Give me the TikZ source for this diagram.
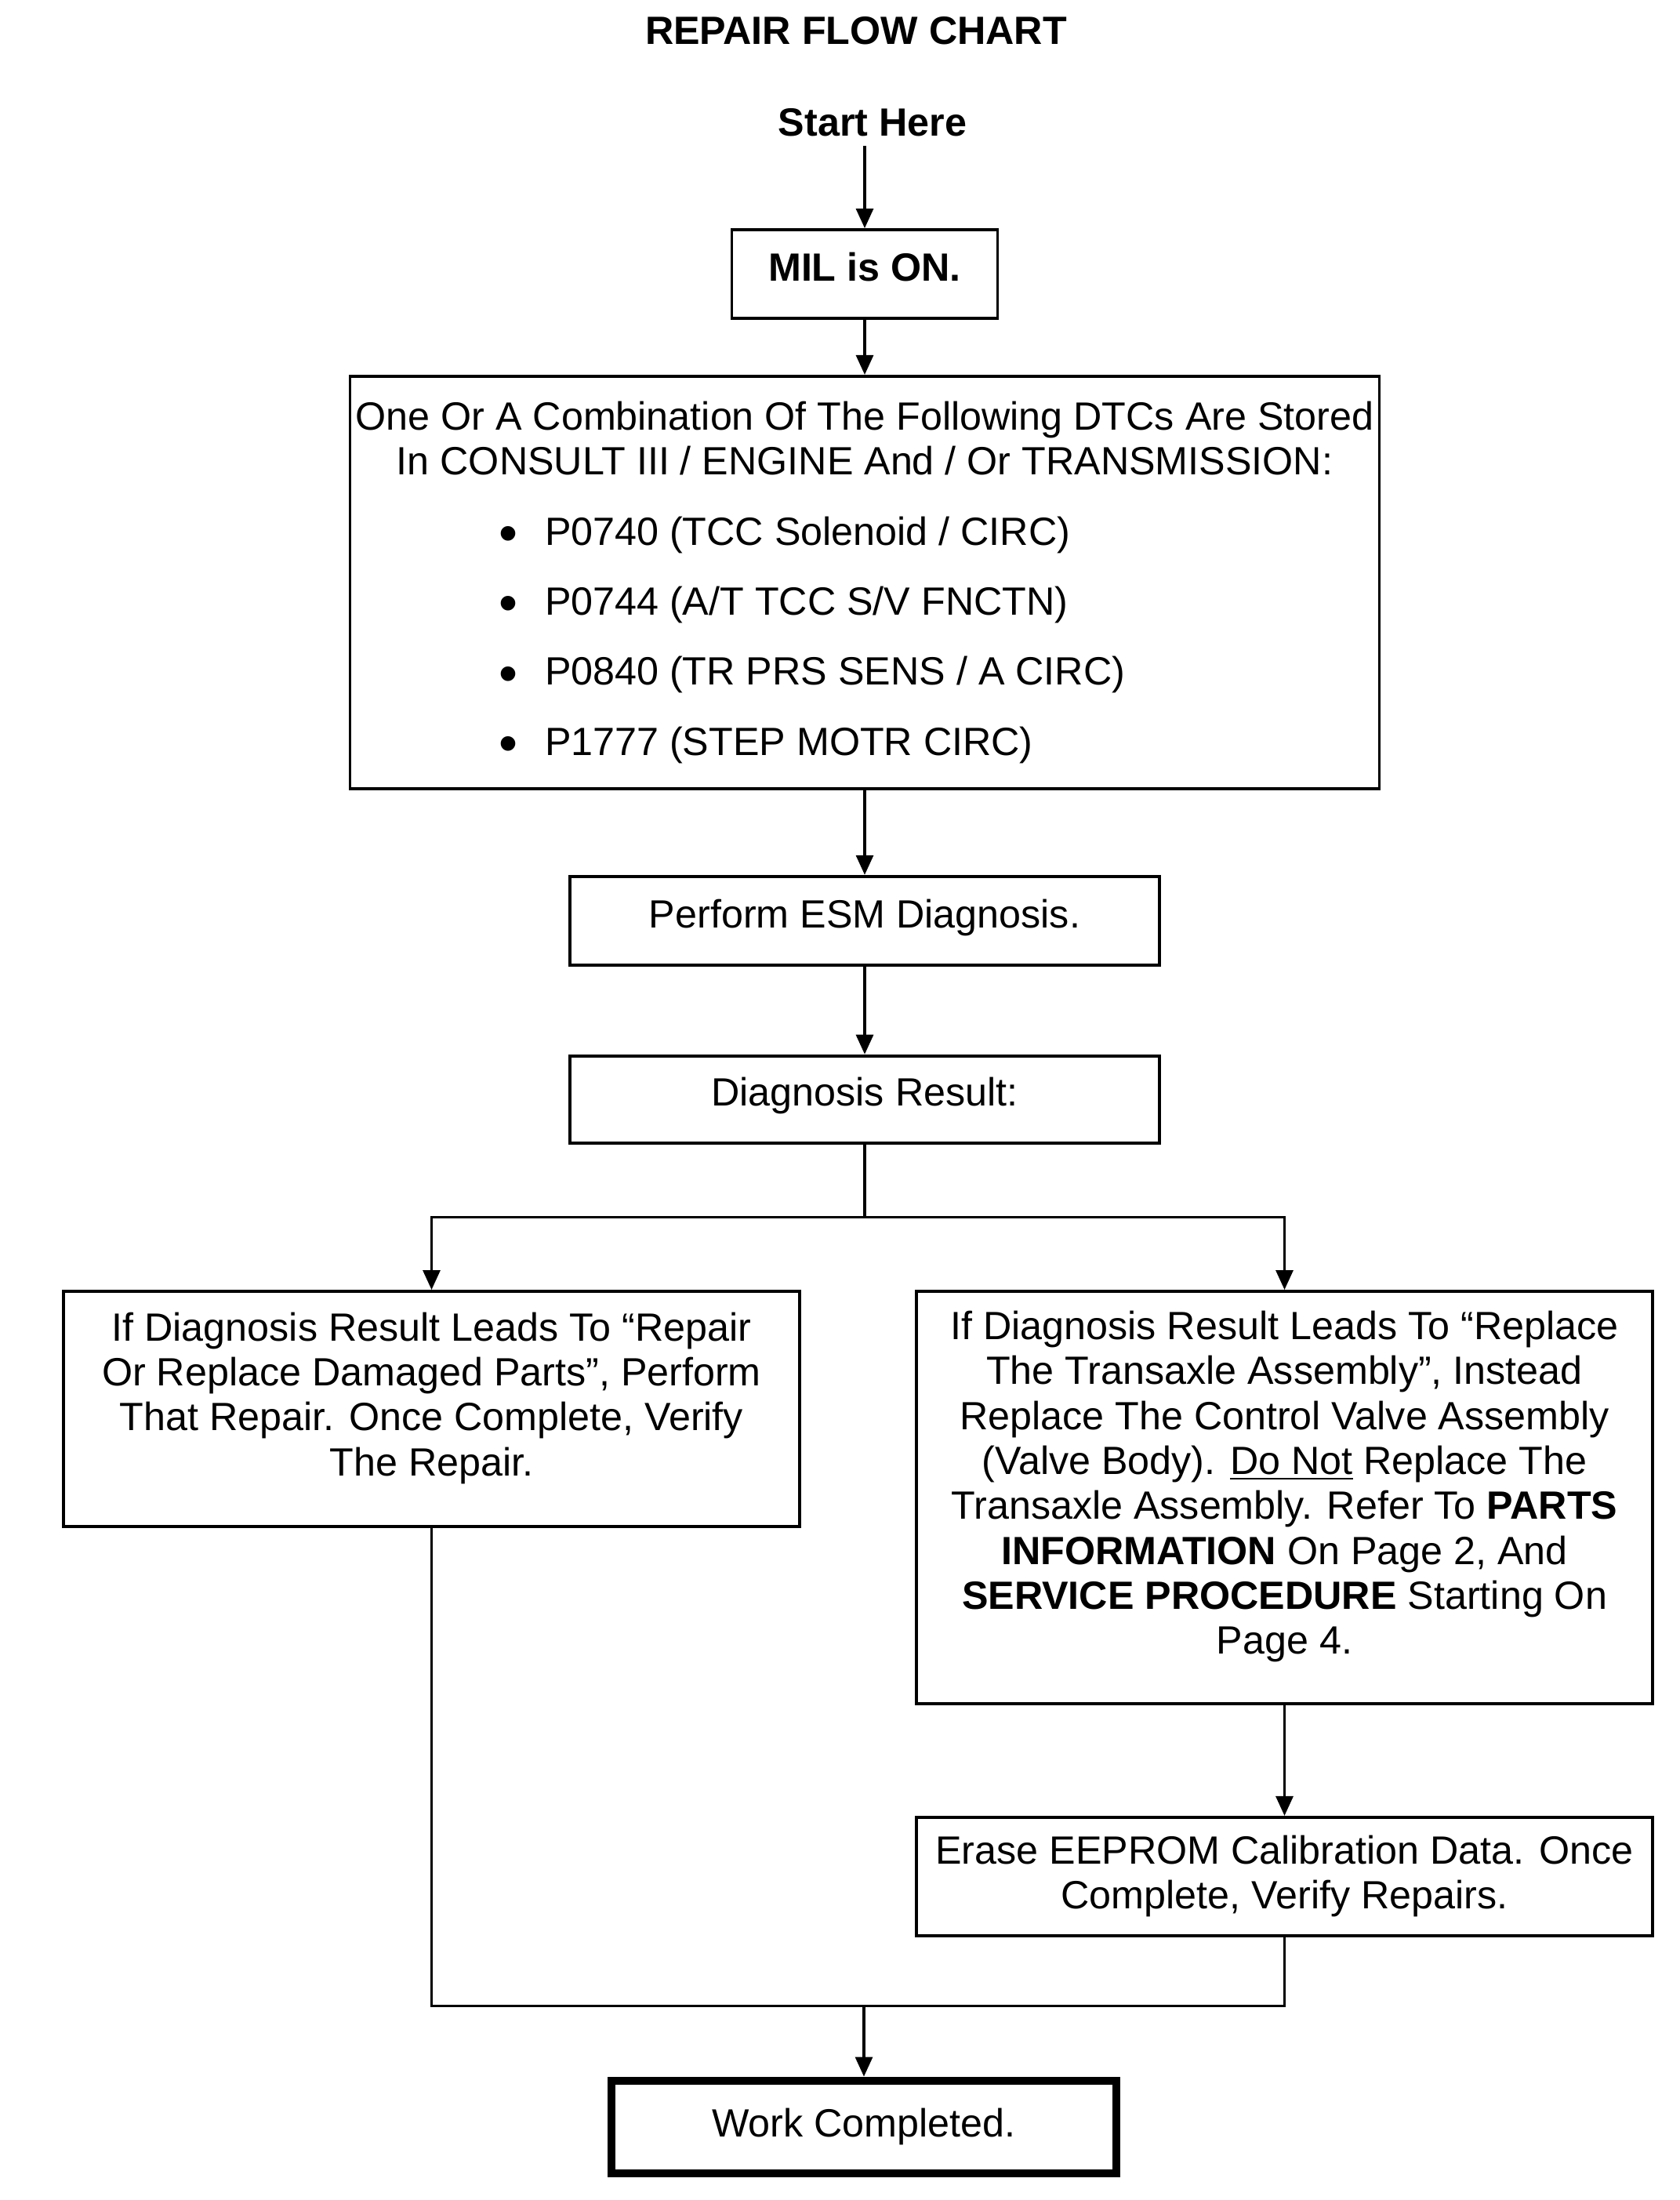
\documentclass[tikz,border=0pt]{standalone}
\usepackage{fontspec}
\setmainfont{Liberation Sans}
\usepackage{tikz}
\usetikzlibrary{arrows.meta, positioning}

% one bulleted DTC line, left aligned inside a fixed box
\newcommand{\dtcitem}[1]{\makebox[9.34cm][l]{\makebox[0.59cm][l]{\raisebox{-2.4pt}{\fontsize{19.5}{19.5}\selectfont\textbullet}}#1}}

\begin{document}
\begin{tikzpicture}[
            node distance=1cm,
            auto,
            % boxes of the chart
            box/.style={
                draw, rectangle,
                line width=1.1pt,
                align=center,
                inner sep=2pt,
                font=\fontsize{14.3}{16.3}\selectfont
            },
            % plain text
            heading/.style={
                align=center,
                font=\fontsize{14.3}{16.3}\selectfont\bfseries
            },
            line/.style={line width=0.9pt},
            arrow/.style={line width=0.9pt, -{Triangle[length=0.25cm, width=0.22cm]}}
        ]

        \useasboundingbox (0,0) rectangle (21.42,-28.06);

        % Title
        \node[heading] (title) at (10.92,-0.39) {REPAIR FLOW CHART};
        \node[heading] (start) at (11.13,-1.56) {Start Here};

        % Main column
        \node[box, font=\fontsize{14.3}{16.3}\selectfont\bfseries, text depth=0.18cm, minimum width=3.39cm, minimum height=1.13cm] (mil) at (11.03,-3.495) {MIL is ON.};

        \node[box, below=0.70cm of mil, minimum width=13.13cm, minimum height=5.26cm] (dtc) {One Or A Combination Of The Following DTCs Are Stored\\
            In CONSULT III / ENGINE And / Or TRANSMISSION:\\[0.32cm]
            \dtcitem{P0740 (TCC Solenoid / CIRC)}\\[0.32cm]
            \dtcitem{P0744 (A/T TCC S/V FNCTN)}\\[0.32cm]
            \dtcitem{P0840 (TR PRS SENS / A CIRC)}\\[0.32cm]
            \dtcitem{P1777 (STEP MOTR CIRC)}};

        \node[box, below=1.08cm of dtc, text depth=0.17cm, minimum width=7.52cm, minimum height=1.13cm] (esm) {Perform ESM Diagnosis.};
        \node[box, below=1.12cm of esm, text depth=0.2cm, minimum width=7.52cm, minimum height=1.11cm] (result) {Diagnosis Result:};

        % Two branches
        \node[box, anchor=north, text depth=0.38cm, minimum width=9.39cm, minimum height=3.00cm] (repair) at (5.505,-16.45) {If Diagnosis Result Leads To “Repair\\
            Or Replace Damaged Parts”, Perform\\
            That Repair. Once Complete, Verify\\
            The Repair.};

        \node[box, anchor=north, text depth=0.38cm, minimum width=9.39cm, minimum height=5.26cm] (replace) at (16.385,-16.45) {If Diagnosis Result Leads To “Replace\\
            The Transaxle Assembly”, Instead\\
            Replace The Control Valve Assembly\\
            (Valve Body). \underline{Do Not} Replace The\\
            Transaxle Assembly. Refer To \textbf{PARTS}\\
            \textbf{INFORMATION} On Page 2, And\\
            \textbf{SERVICE PROCEDURE} Starting On\\
            Page 4.};

        \node[box, below=1.41cm of replace, minimum width=9.39cm, minimum height=1.51cm] (erase) {Erase EEPROM Calibration Data. Once\\
            Complete, Verify Repairs.};

        % End
        \node[box, line width=1.9pt, anchor=north, minimum width=6.48cm, minimum height=1.22cm] (work) at (11.02,-26.485) {Work Completed.};
        \draw[line width=1.1pt] ([xshift=0.085cm, yshift=-0.085cm]work.north west) rectangle ([xshift=-0.085cm, yshift=0.085cm]work.south east);

        \coordinate (split) at ([yshift=-0.93cm]result.south);
        \coordinate (join) at ([yshift=0.90cm]work.north);

        % Arrows
        \draw[arrow] (start.south -| mil.north) -- (mil.north);
        \draw[arrow] (mil) -- (dtc);
        \draw[arrow] (dtc) -- (esm);
        \draw[arrow] (esm) -- (result);
        \draw[line] (result) -- (split);
        \draw[arrow] (split) -| (repair.north);
        \draw[arrow] (split) -| (replace.north);
        \draw[arrow] (replace) -- (erase);
        \draw[line] (repair.south) |- (join);
        \draw[line] (erase.south) |- (join);
        \draw[arrow] (join) -- (work);

        \end{tikzpicture}
\end{document}
